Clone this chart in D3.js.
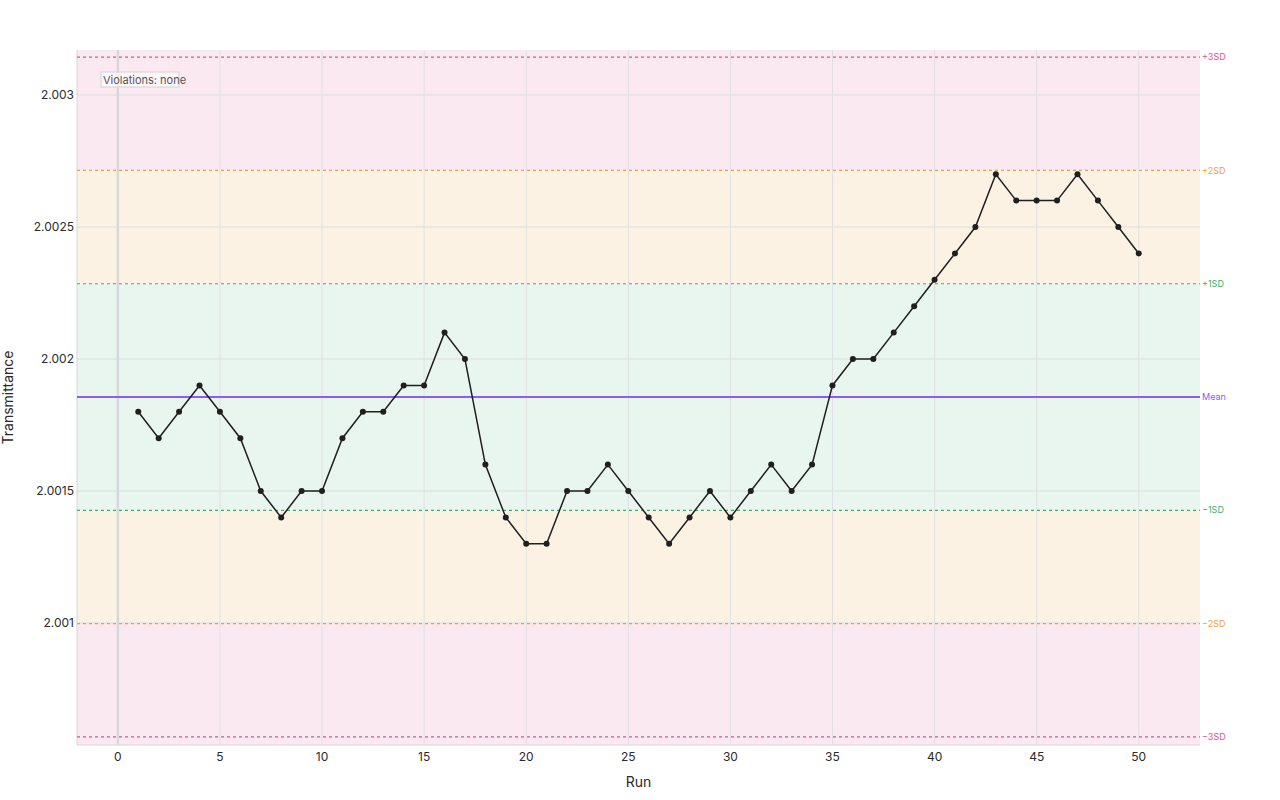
<!DOCTYPE html>
<html>
<head>
<meta charset="utf-8">
<script src="https://cdn.jsdelivr.net/npm/d3@7"></script>
<style>
  body { margin: 0; background: #fff; }
  svg { font-family: Inter, "Noto Sans", sans-serif; }
</style>
</head>
<body>
<div id="chart"></div>
<script>
// Run numbers and measured transmittance
var runs = d3.range(1, 51);
var values = [
    2.0018, 2.0017, 2.0018, 2.0019, 2.0018, 2.0017, 2.0015, 2.0014, 2.0015, 2.0015,
    2.0017, 2.0018, 2.0018, 2.0019, 2.0019, 2.0021, 2.0020, 2.0016, 2.0014, 2.0013,
    2.0013, 2.0015, 2.0015, 2.0016, 2.0015, 2.0014, 2.0013, 2.0014, 2.0015, 2.0014,
    2.0015, 2.0016, 2.0015, 2.0016, 2.0019, 2.0020, 2.0020, 2.0021, 2.0022, 2.0023,
    2.0024, 2.0025, 2.0027, 2.0026, 2.0026, 2.0026, 2.0027, 2.0026, 2.0025, 2.0024
];
var xTicks = [0, 5, 10, 15, 20, 25, 30, 35, 40, 45, 50];
var yTicks = [2.001, 2.0015, 2.002, 2.0025, 2.003];
var yTickLabels = ["2.001", "2.0015", "2.002", "2.0025", "2.003"];

// Control limits from the data
var mean = d3.mean(values);
var sd = d3.deviation(values);

var limitLines = [
    {k: 3, label: "+3SD", color: "#d9568f"},
    {k: 2, label: "+2SD", color: "#eba040"},
    {k: 1, label: "+1SD", color: "#36b273"},
    {k: -1, label: "\u22121SD", color: "#36b273"},
    {k: -2, label: "\u22122SD", color: "#eba040"},
    {k: -3, label: "\u22123SD", color: "#d9568f"}
];

const width = 1280;
const height = 800;
const margin = {top: 50, right: 80, bottom: 55, left: 77};

var svg = d3.select('#chart').append('svg')
    .attr('width', width)
    .attr('height', height);

var x = d3.scaleLinear()
    .domain([-2, 53])
    .range([margin.left, width - margin.right]);

var y = d3.scaleLinear()
    .domain([2.000538, 2.0031705])
    .range([height - margin.bottom, margin.top]);

var x0 = margin.left, x1 = width - margin.right;
var y0 = margin.top, y1 = height - margin.bottom;

// Background zones
var zones = [
    {from: mean + 2 * sd, to: y.domain()[1], fill: "#fbe9f1"},
    {from: mean + 1 * sd, to: mean + 2 * sd, fill: "#fcf2e4"},
    {from: mean - 1 * sd, to: mean + 1 * sd, fill: "#e9f5ef"},
    {from: mean - 2 * sd, to: mean - 1 * sd, fill: "#fcf2e4"},
    {from: y.domain()[0], to: mean - 2 * sd, fill: "#fbe9f1"}
];

svg.append('g').selectAll('rect')
    .data(zones)
    .enter()
    .append('rect')
    .attr('x', x0)
    .attr('width', x1 - x0)
    .attr('y', d => y(d.to))
    .attr('height', d => y(d.from) - y(d.to))
    .attr('fill', d => d.fill);

// Grid lines
svg.append('g').selectAll('line')
    .data(yTicks)
    .enter()
    .append('line')
    .attr('x1', x0).attr('x2', x1)
    .attr('y1', d => y(d)).attr('y2', d => y(d))
    .attr('stroke', '#dcdcdf')
    .attr('stroke-width', 1);

svg.append('g').selectAll('line')
    .data(xTicks)
    .enter()
    .append('line')
    .attr('x1', d => x(d)).attr('x2', d => x(d))
    .attr('y1', y0).attr('y2', y1)
    .attr('stroke', d => d === 0 ? '#d8d8dc' : '#e0e0e4')
    .attr('stroke-width', d => d === 0 ? 2.5 : 1);

// Axis frame (left and bottom)
svg.append('line')
    .attr('x1', x0).attr('x2', x0).attr('y1', y0).attr('y2', y1)
    .attr('stroke', '#d6d6d6').attr('stroke-width', 1);
svg.append('line')
    .attr('x1', x0).attr('x2', x1).attr('y1', y1).attr('y2', y1)
    .attr('stroke', '#d6d6d6').attr('stroke-width', 1);

// SD limit lines and labels
var limits = svg.append('g');
limits.selectAll('line')
    .data(limitLines)
    .enter()
    .append('line')
    .attr('x1', x0).attr('x2', x1)
    .attr('y1', d => y(mean + d.k * sd)).attr('y2', d => y(mean + d.k * sd))
    .attr('stroke', d => d.color)
    .attr('stroke-width', 1.2)
    .attr('stroke-dasharray', '3,3');

limits.selectAll('text')
    .data(limitLines)
    .enter()
    .append('text')
    .attr('x', x1 + 2)
    .attr('y', d => y(mean + d.k * sd))
    .attr('dy', '0.35em')
    .attr('font-size', 9)
    .attr('fill', d => d.color)
    .text(d => d.label);

// Mean line
svg.append('line')
    .attr('x1', x0).attr('x2', x1)
    .attr('y1', y(mean)).attr('y2', y(mean))
    .attr('stroke', '#8b5cf6')
    .attr('stroke-width', 2);
svg.append('text')
    .attr('x', x1 + 2)
    .attr('y', y(mean))
    .attr('dy', '0.35em')
    .attr('font-size', 9)
    .attr('fill', '#8b5cf6')
    .text('Mean');

// Tick labels
svg.append('g').selectAll('text')
    .data(xTicks)
    .enter()
    .append('text')
    .attr('x', d => x(d))
    .attr('y', y1 + 16)
    .attr('text-anchor', 'middle')
    .attr('font-size', 12)
    .attr('fill', '#2a2a2a')
    .text(d => d);

svg.append('g').selectAll('text')
    .data(yTicks)
    .enter()
    .append('text')
    .attr('x', x0 - 3)
    .attr('y', d => y(d))
    .attr('dy', '0.35em')
    .attr('text-anchor', 'end')
    .attr('font-size', 12)
    .attr('fill', '#2a2a2a')
    .text((d, i) => yTickLabels[i]);

// Axis titles
svg.append('text')
    .attr('x', (x0 + x1) / 2)
    .attr('y', 787)
    .attr('text-anchor', 'middle')
    .attr('font-size', 14)
    .attr('fill', '#2a2a2a')
    .text('Run');

svg.append('text')
    .attr('transform', 'translate(13,' + ((y0 + y1) / 2) + ') rotate(-90)')
    .attr('text-anchor', 'middle')
    .attr('font-size', 14)
    .attr('fill', '#2a2a2a')
    .text('Transmittance');

// Data line and points
var line = d3.line()
    .x((d, i) => x(runs[i]))
    .y(d => y(d));

svg.append('path')
    .datum(values)
    .attr('d', line)
    .attr('fill', 'none')
    .attr('stroke', '#1f1f1f')
    .attr('stroke-width', 1.5);

svg.append('g').selectAll('circle')
    .data(values)
    .enter()
    .append('circle')
    .attr('cx', (d, i) => x(runs[i]))
    .attr('cy', d => y(d))
    .attr('r', 3)
    .attr('fill', '#1f1f1f');

// Violations annotation
var note = svg.append('g');
note.append('rect')
    .attr('x', 101).attr('y', 72)
    .attr('width', 78).attr('height', 15)
    .attr('fill', 'rgba(255,255,255,0.6)')
    .attr('stroke', '#d4d4d4')
    .attr('stroke-width', 1);
note.append('text')
    .attr('x', 103).attr('y', 80)
    .attr('dy', '0.35em')
    .attr('font-size', 11)
    .attr('fill', '#555')
    .text('Violations: none');
</script>
</body>
</html>
